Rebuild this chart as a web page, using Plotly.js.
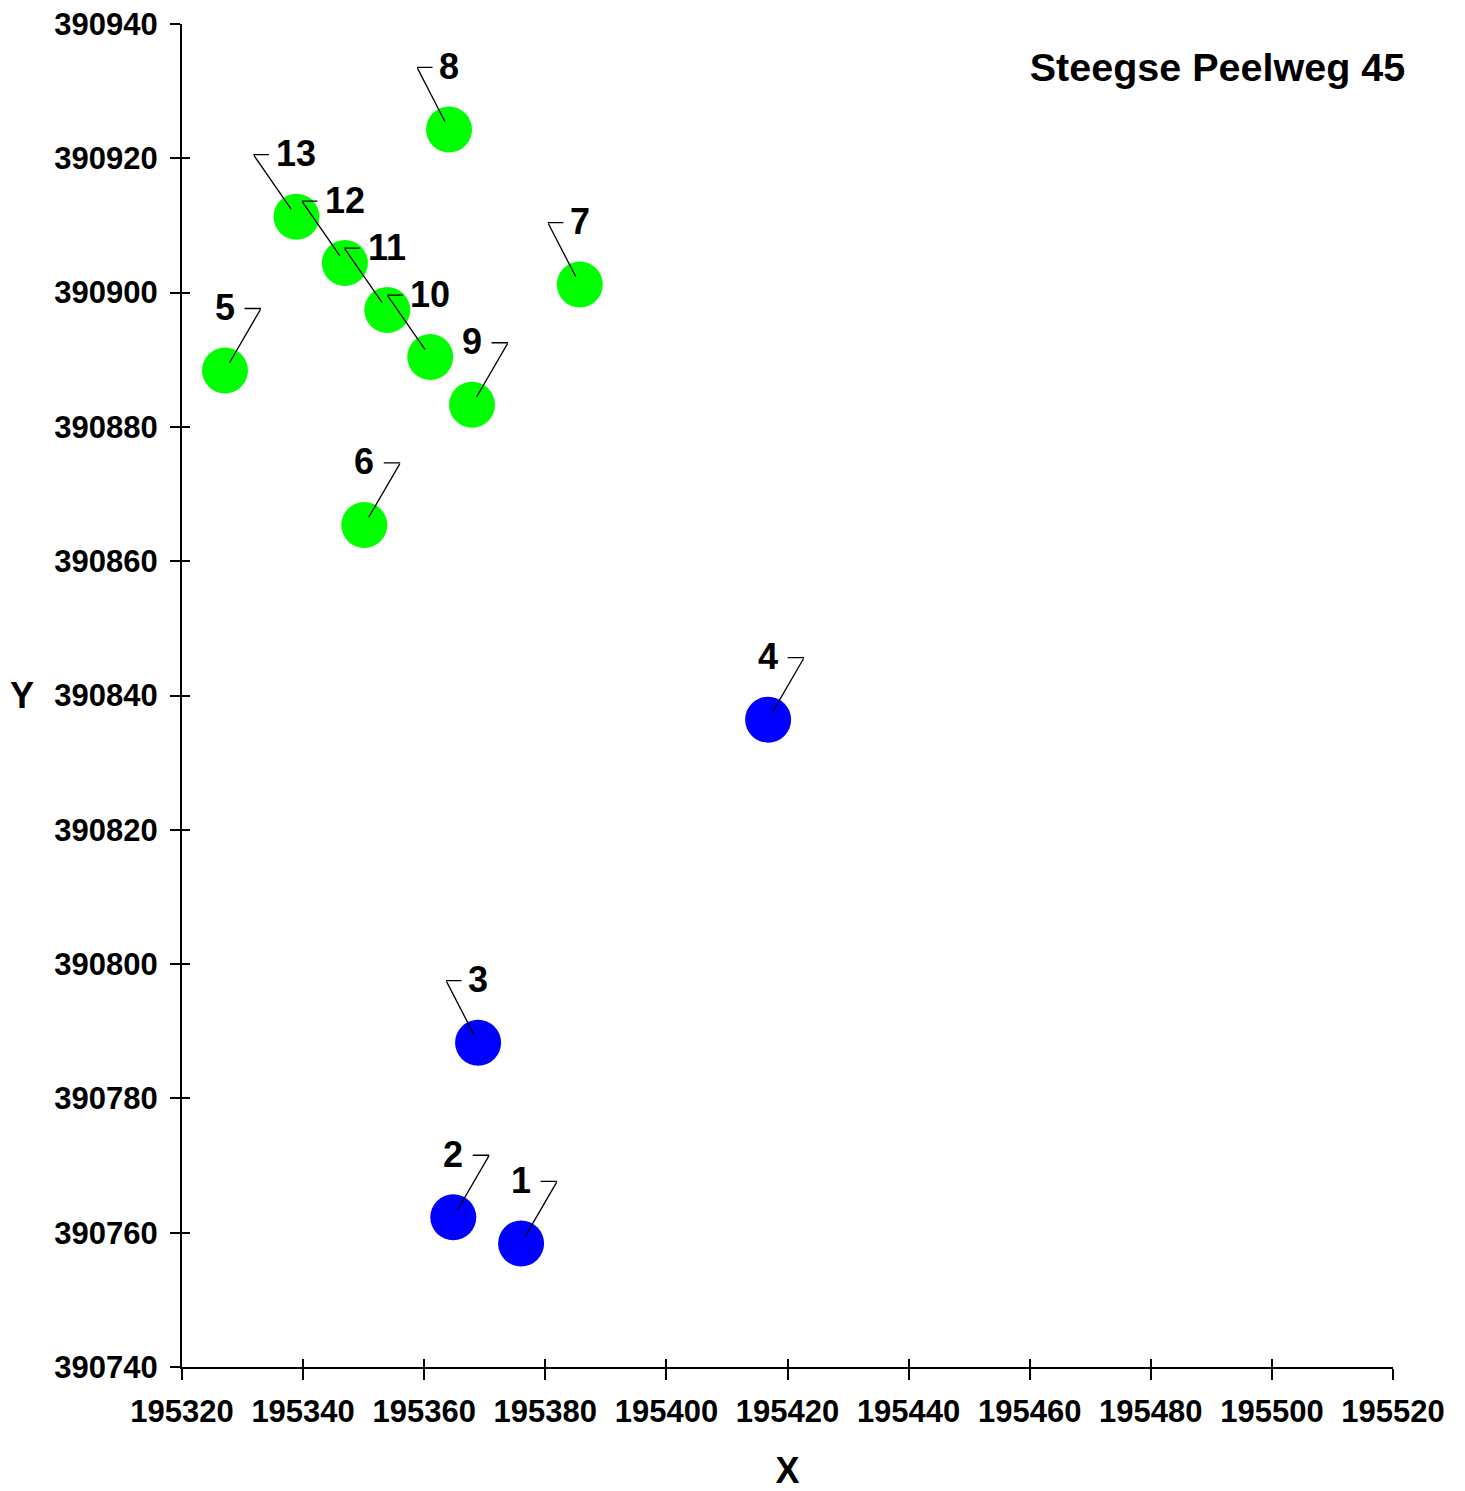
<!DOCTYPE html>
<html>
<head>
<meta charset="utf-8">
<script src="https://cdn.plot.ly/plotly-3.0.1.min.js"></script>
<style>html,body{margin:0;padding:0;background:#fff;}</style>
</head>
<body>
<div id="chart" style="width:1465px;height:1491px;"></div>
<script>
// ---- data ----
const pointLabels = ['1','2','3','4','5','6','7','8','9','10','11','12','13'];
const xValues = [195376.0,195364.8,195368.9,195416.8,195327.1,195350.1,195385.7,195364.1,195367.9,195361.0,195353.9,195346.9,195338.9];
const yValues = [390758.4,390762.3,390788.3,390836.4,390888.4,390865.4,390901.2,390924.3,390883.3,390890.4,390897.4,390904.4,390911.3];
const groups  = ['blue','blue','blue','blue','green','green','green','green','green','green','green','green','green'];
const labelSide = ['right','right','left','right','right','right','left','left','right','left','left','left','left'];
const xTicks = [195320,195340,195360,195380,195400,195420,195440,195460,195480,195500,195520];
const yTicks = [390740,390760,390780,390800,390820,390840,390860,390880,390900,390920,390940];
const chartTitle = 'Steegse Peelweg 45';
const xTitle = 'X';
const yTitle = 'Y';

const colorMap = {blue:'#0000FF', green:'#00FF00'};
const FONT = 'Arial, "Liberation Sans", sans-serif';

const traces = [{
  type:'scatter', mode:'markers', x:xValues, y:yValues,
  marker:{size:46, color:groups.map(g=>colorMap[g]), line:{width:0}},
  hoverinfo:'skip', showlegend:false
},{
  type:'scatter', mode:'markers', x:xValues, y:yValues, xaxis:'x2', yaxis:'y2',
  marker:{size:1, opacity:0}, hoverinfo:'skip', showlegend:false
}];

const annotations = [];
pointLabels.forEach((lab,i)=>{
  const right = labelSide[i]==='right';
  const cdx = right ? 36 : -(21 + 11*lab.length);
  const cdy = -62;
  annotations.push({x:xValues[i], y:yValues[i], xref:'x', yref:'y', text:lab, showarrow:false,
    yshift:63, font:{family:FONT, size:36, color:'#000', weight:'bold'}});
  annotations.push({x:xValues[i], y:yValues[i], xref:'x', yref:'y', text:' ', showarrow:true,
    arrowhead:0, arrowwidth:1.3, arrowcolor:'#000', ax:cdx, ay:cdy, standoff:9,
    font:{size:1}, borderpad:0});
  annotations.push({x:xValues[i], y:yValues[i], xref:'x', yref:'y', text:' ', showarrow:true,
    arrowhead:0, arrowwidth:1.3, arrowcolor:'#000', ax: right ? -17 : 16, ay:0, standoff:0,
    xshift:cdx, yshift:-cdy, font:{size:1}, borderpad:0});
});
// horizontal Y axis title
annotations.push({xref:'paper', yref:'paper', x:(22-182)/1211, y:0.5, xanchor:'center', yanchor:'middle',
  text:yTitle, showarrow:false, font:{family:FONT, size:36, color:'#000', weight:'bold'}});

const tickFont = {family:FONT, size:31, color:'#000', weight:'bold'};
const layout = {
  width:1465, height:1491,
  margin:{l:182, r:72, t:24, b:124, pad:0},
  paper_bgcolor:'#fff', plot_bgcolor:'#fff',
  title:{text:chartTitle, font:{family:FONT, size:39.5, color:'#000', weight:'bold'},
    xref:'container', yref:'container', x:1217.5/1465, y:1-67/1491, xanchor:'center', yanchor:'middle'},
  xaxis:{range:[195320,195520], tickvals:xTicks, ticktext:xTicks.map(String), showgrid:false, zeroline:false,
    showline:true, linecolor:'#000', linewidth:2, ticks:'outside', ticklen:11, tickwidth:2, tickcolor:'#000',
    ticklabelstandoff:5,
    tickfont:tickFont, title:{text:xTitle, font:{family:FONT, size:36, color:'#000', weight:'bold'}, standoff:30}},
  yaxis:{range:[390740,390940], tickvals:yTicks, ticktext:yTicks.map(String), showgrid:false, zeroline:false,
    showline:true, linecolor:'#000', linewidth:2, ticks:'outside', ticklen:10, tickwidth:2, tickcolor:'#000',
    ticklabelstandoff:6, tickfont:tickFont},
  xaxis2:{range:[195320,195520], tickvals:xTicks, overlaying:'x', anchor:'y2', side:'bottom', showgrid:false, zeroline:false,
    showline:false, ticks:'inside', ticklen:8, tickwidth:2, tickcolor:'#000', showticklabels:false},
  yaxis2:{range:[390740,390940], tickvals:yTicks, overlaying:'y', anchor:'x2', side:'left', showgrid:false, zeroline:false,
    showline:false, ticks:'inside', ticklen:8, tickwidth:2, tickcolor:'#000', showticklabels:false},
  annotations:annotations,
  showlegend:false
};
Plotly.newPlot('chart', traces, layout, {staticPlot:true, displayModeBar:false});
</script>
</body>
</html>
